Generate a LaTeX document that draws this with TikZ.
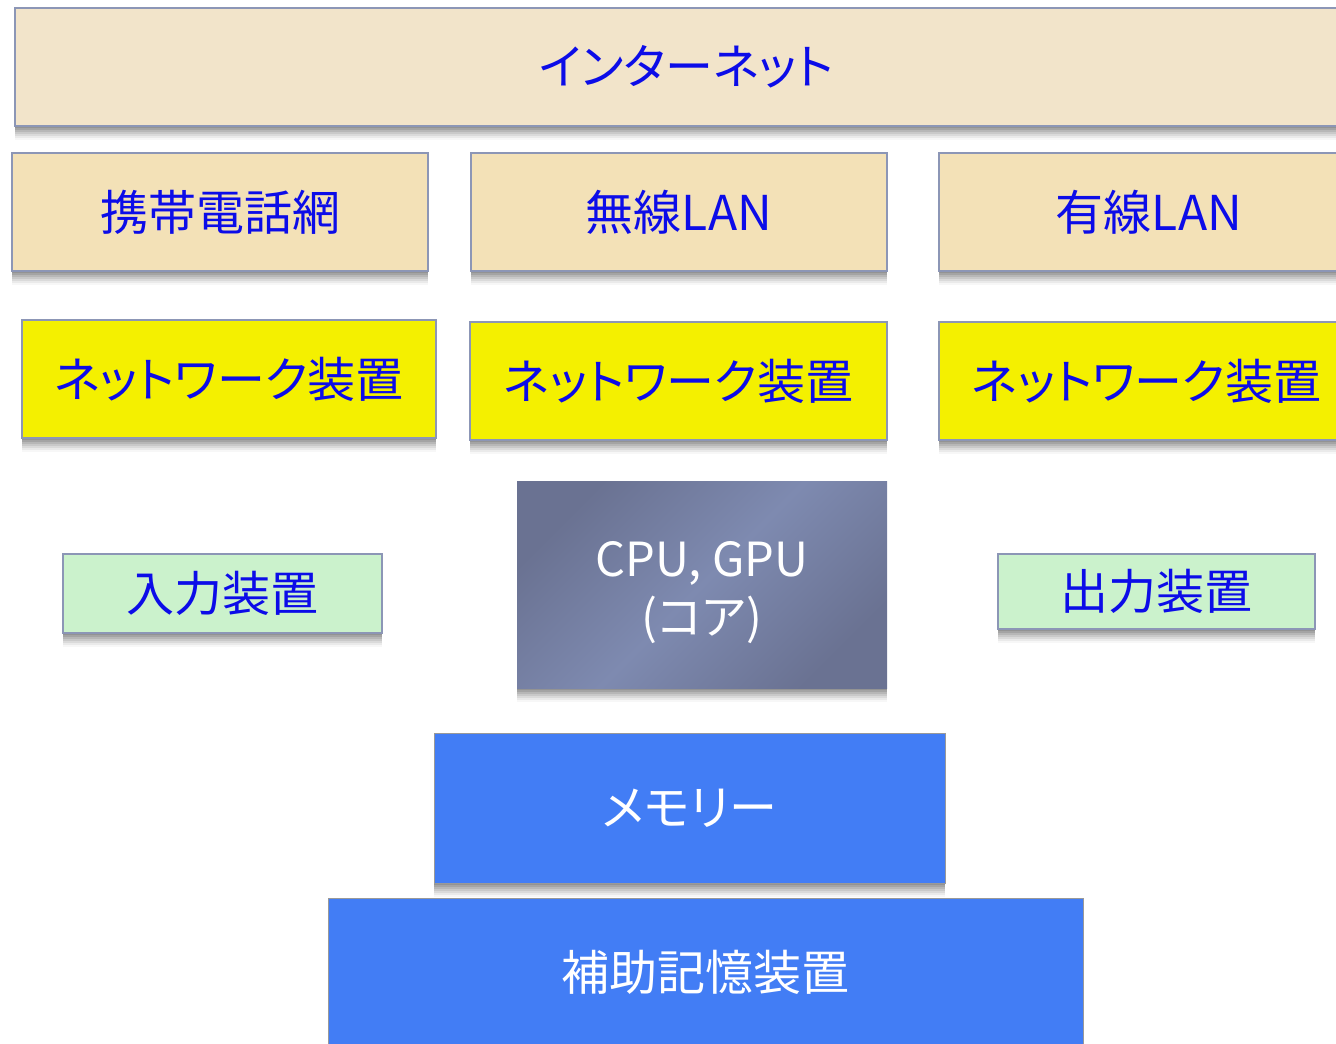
\documentclass[tikz,border=0pt]{standalone}
\usepackage{fontspec}
\setmainfont{Noto Sans CJK JP}[RawFeature={+palt}]
\usetikzlibrary{shadings}
\definecolor{txtblue}{RGB}{12,12,232}
\definecolor{edge}{RGB}{140,150,182}
\definecolor{inetfill}{RGB}{242,228,202}
\definecolor{lanfill}{RGB}{243,225,183}
\definecolor{netfill}{RGB}{244,240,0}
\definecolor{iofill}{RGB}{203,242,204}
\definecolor{memfill}{RGB}{66,125,245}
\definecolor{cpudark}{RGB}{106,114,146}
\definecolor{cpulight}{RGB}{126,138,176}
\tikzset{
  shad/.style={
    preaction={fill=black,opacity=.10,transform canvas={yshift=-2pt}},
    preaction={fill=black,opacity=.10,transform canvas={yshift=-4pt}},
    preaction={fill=black,opacity=.09,transform canvas={yshift=-6pt}},
    preaction={fill=black,opacity=.08,transform canvas={yshift=-8pt}},
    preaction={fill=black,opacity=.07,transform canvas={yshift=-10pt}},
    preaction={fill=black,opacity=.05,transform canvas={yshift=-12pt}},
    preaction={fill=black,opacity=.03,transform canvas={yshift=-14pt}}},
  box/.style={shad,draw=edge,line width=1.6pt,inner sep=0pt,outer sep=0pt,
    text=txtblue,font=\fontsize{48}{56}\selectfont,align=center},
  inetbox/.style={box,fill=inetfill},
  lanbox/.style={box,fill=lanfill},
  netbox/.style={box,fill=netfill},
  iobox/.style={box,fill=iofill},
  membox/.style={box,fill=memfill,draw=gray!80,line width=1pt,text=white},
  cpubox/.style={box,draw=none,shading=axis,left color=cpudark,
    right color=cpudark,middle color=cpulight,shading angle=45},
  cputxt/.style={inner sep=0pt,text=white,align=center,
    font=\fontsize{47}{58}\selectfont}
}
\begin{document}
\begin{tikzpicture}[x=1pt,y=-1pt]
\useasboundingbox (0,0) rectangle (1336,1044);
\clip (0,0) rectangle (1336,1044);
\node[inetbox,minimum width=1343,minimum height=118] (inet) at (686.5,67) {インターネット};
\node[lanbox,minimum width=416,minimum height=118] (keitai) at (220,212) {携帯電話網};
\node[lanbox,minimum width=416,minimum height=118] (musen) at (679,212) {無線LAN};
\node[lanbox,minimum width=420,minimum height=118] (yusen) at (1149,212) {有線LAN};
\node[netbox,minimum width=414,minimum height=118] (net1) at (229,379) {ネットワーク装置};
\node[netbox,minimum width=417,minimum height=118] (net2) at (678.5,381) {ネットワーク装置};
\node[netbox,minimum width=415,minimum height=118] (net3) at (1146.5,381) {ネットワーク装置};
\node[cpubox,minimum width=370,minimum height=207] (cpu) at (702,584.5) {};
\node[cputxt] (cputext) at ([yshift=-8pt]cpu.center) {CPU, GPU\\(コア)};
\node[iobox,minimum width=319,minimum height=79] (inp) at (222.5,593.5) {入力装置};
\node[iobox,minimum width=317,minimum height=75] (outp) at (1156.5,591.5) {出力装置};
\node[membox,minimum width=511,minimum height=150] (mem) at (689.5,808) {メモリー};
\node[membox,minimum width=755,minimum height=148] (aux) at (705.5,972) {補助記憶装置};
\end{tikzpicture}
\end{document}
